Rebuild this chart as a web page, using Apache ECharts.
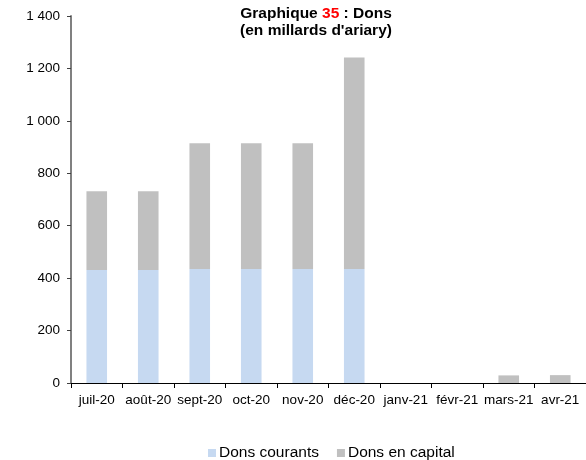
<!DOCTYPE html>
<html>
<head>
<meta charset="utf-8">
<script src="https://cdn.jsdelivr.net/npm/echarts@6/dist/echarts.min.js"></script>
<style>
  html, body { margin: 0; padding: 0; background: #fff; }
  #chart { width: 586px; height: 460px; }
</style>
</head>
<body>
<div id="chart"></div>
<script>
// Monthly grants, billions of ariary
const months = ['juil-20', 'août-20', 'sept-20', 'oct-20', 'nov-20', 'déc-20', 'janv-21', 'févr-21', 'mars-21', 'avr-21'];
const donsCourants = [431, 431, 435, 435, 435, 435, 0, 0, 0, 0];
const donsCapital = [300, 300, 480, 480, 480, 807, 0, 0, 29, 30];
const yTicks = [0, 200, 400, 600, 800, 1000, 1200, 1400];

const font = 'Liberation Sans, Arial, sans-serif';

const chart = echarts.init(document.getElementById('chart'), null, { renderer: 'canvas' });

function fmtThousands(v) {
  return String(v).replace(/\B(?=(\d{3})+(?!\d))/g, ' ');
}

chart.setOption({
  animation: false,
  backgroundColor: '#ffffff',
  title: {
    text: '{a|Graphique }{r|35}{a| : Dons}\n{a|(en millards d\'ariary)}',
    left: 311,
    top: 0,
    textAlign: 'center',
    textStyle: {
      fontFamily: font,
      rich: {
        a: { fontFamily: font, fontSize: 15.5, fontWeight: 'bold', color: '#000', lineHeight: 17 },
        r: { fontFamily: font, fontSize: 15.5, fontWeight: 'bold', color: '#ff0000', lineHeight: 17 }
      }
    }
  },
  legend: {
    top: 440,
    left: 203,
    itemWidth: 8,
    itemHeight: 8,
    itemGap: 18,
    icon: 'rect',
    textStyle: { fontFamily: font, fontSize: 15.5, color: '#000', padding: [0, 0, 0, -2] },
    data: ['Dons courants', 'Dons en capital']
  },
  grid: { left: 71, right: -8, top: 16, bottom: 77, containLabel: false },
  xAxis: {
    type: 'category',
    data: months,
    axisLine: { lineStyle: { color: '#000', width: 1 } },
    axisTick: { show: true, length: 5, lineStyle: { color: '#000' } },
    axisLabel: { fontFamily: font, fontSize: 13.5, color: '#000', margin: 10, interval: 0 }
  },
  yAxis: {
    type: 'value',
    min: yTicks[0],
    max: yTicks[yTicks.length - 1],
    interval: 200,
    axisLine: { show: true, lineStyle: { color: '#808080', width: 2 } },
    axisTick: { show: true, length: 4, lineStyle: { color: '#404040' } },
    splitLine: { show: false },
    axisLabel: { fontFamily: font, fontSize: 13.5, color: '#000', margin: 11, formatter: fmtThousands }
  },
  series: [
    {
      name: 'Dons courants',
      type: 'bar',
      stack: 'dons',
      barWidth: '40%',
      itemStyle: { color: '#C6D9F1' },
      data: donsCourants
    },
    {
      name: 'Dons en capital',
      type: 'bar',
      stack: 'dons',
      barWidth: '40%',
      itemStyle: { color: '#C0C0C0' },
      data: donsCapital
    }
  ]
});
</script>
</body>
</html>
